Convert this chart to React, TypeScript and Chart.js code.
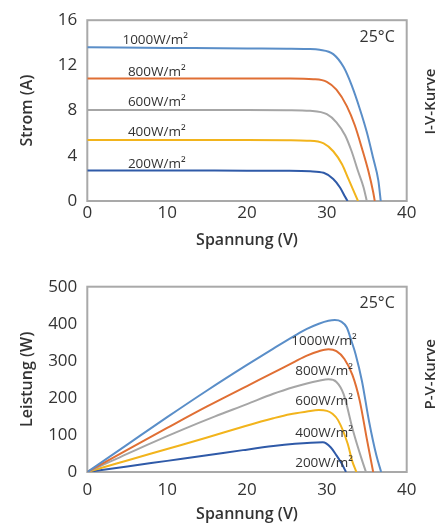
import React, { useEffect, useRef } from "react";
import { Chart, registerables } from "chart.js";

Chart.register(...registerables);

// ---------- categories / labels ----------
const irradianceLabels = ["1000W/m²", "800W/m²", "600W/m²", "400W/m²", "200W/m²"];
const seriesColors = ["#5a8ec8", "#e06f34", "#a6a6a6", "#f2b41c", "#2f5aa8"];
const temperatureLabel = "25°C";

// ---------- tick values ----------
const voltageTicks = [0, 10, 20, 30, 40];
const currentTicks = [0, 4, 8, 12, 16];
const powerTicks = [0, 100, 200, 300, 400, 500];

// ---------- I-V curves (V in volts, I in amps) ----------
const iv1000V = [0, 10, 20, 25, 27.5, 29.1, 30.8, 32.1, 33.1, 34.15, 35.0, 35.8, 36.45, 36.75];
const iv1000I = [13.6, 13.55, 13.5, 13.48, 13.45, 13.38, 13.0, 11.85, 10.25, 8.1, 6.1, 3.8, 1.8, 0];
const iv800V = [0, 10, 20, 25, 28.3, 30.0, 31.2, 32.5, 33.5, 34.4, 35.2, 35.8, 36.0];
const iv800I = [10.85, 10.85, 10.85, 10.84, 10.78, 10.55, 9.85, 8.4, 6.7, 4.65, 2.65, 0.8, 0];
const iv600V = [0, 10, 20, 25, 27.9, 30.0, 31.2, 32.3, 33.1, 33.9, 34.6, 35.0];
const iv600I = [8.06, 8.06, 8.06, 8.04, 7.98, 7.68, 6.96, 5.8, 4.4, 2.65, 1.2, 0];
const iv400V = [0, 10, 20, 25, 27.5, 29.6, 30.8, 31.9, 32.7, 33.5, 33.9];
const iv400I = [5.39, 5.4, 5.4, 5.38, 5.34, 5.1, 4.4, 3.25, 1.95, 0.65, 0];
const iv200V = [0, 10, 20, 25, 27.9, 29.6, 30.8, 31.65, 32.3, 32.6];
const iv200I = [2.7, 2.7, 2.68, 2.67, 2.63, 2.5, 1.95, 1.2, 0.35, 0];

// ---------- P-V curves (V in volts, P in watts) ----------
const pv1000V = [0, 5, 10, 15, 20, 23.3, 26, 27.5, 29, 30.2, 31, 31.8, 32.5, 33.1, 33.6, 34.4, 35.3, 36.2, 36.8];
const pv1000P = [0, 74, 148, 220, 289, 333, 368, 386, 400, 408, 410, 406, 390, 352, 318, 245, 135, 45, 0];
const pv800V = [0, 5, 10, 15, 20, 23.3, 26, 27.5, 29, 30.2, 31.2, 32.2, 33.2, 34.1, 35.0, 35.8];
const pv800P = [0, 60, 119, 177, 232, 268, 298, 314, 326, 331, 326, 305, 262, 194, 90, 0];
const pv600V = [0, 4, 8, 12, 16, 20, 23.3, 26, 27.5, 29, 30.2, 31.2, 32.1, 33.3, 34.4, 34.9];
const pv600P = [0, 39, 78, 115, 150, 183, 211, 230, 239, 246, 250, 243, 210, 110, 32, 0];
const pv400V = [0, 5, 10, 15, 19.5, 23.3, 25.4, 27.5, 29, 30, 30.7, 31.4, 32.6, 33.2, 33.7];
const pv400P = [0, 31, 62, 93, 122, 145, 156, 163, 167, 165, 157, 140, 77, 28, 0];
const pv200V = [0, 5, 10, 15, 19.5, 23.3, 26, 28, 29.5, 30.5, 31.2, 31.8, 32.4];
const pv200P = [0, 15, 30, 45, 59, 70, 76, 79, 80, 66, 45, 25, 0];

// ---------- annotation anchors (data space) ----------
const ivLabelV = [8.5, 8.7, 8.7, 8.7, 8.7];
const ivLabelI = [14.2, 11.44, 8.77, 6.1, 3.27];
const pvLabelV = [29.65, 29.65, 29.65, 29.65, 29.65];
const pvLabelP = [354, 273, 190, 104, 25];
const ivTempAt = [36.3, 14.5];
const pvTempAt = [36.3, 456];

const FONT = "'Open Sans', 'Noto Sans', sans-serif";
const TEXT = "#333333";

const toPoints = (xs: number[], ys: number[]) => xs.map((x, i) => ({ x, y: ys[i] }));

const frameAndText = {
  id: "frameAndText",
  beforeDatasetsDraw(chart: any) {
    const { ctx, chartArea } = chart;
    ctx.save();
    ctx.strokeStyle = "#a9a9a9";
    ctx.lineWidth = 2;
    ctx.strokeRect(chartArea.left, chartArea.top, chartArea.right - chartArea.left, chartArea.bottom - chartArea.top);
    ctx.restore();
  },
  afterDatasetsDraw(chart: any, _args: any, opts: any) {
    const { ctx, chartArea, scales } = chart;
    ctx.save();
    ctx.fillStyle = TEXT;
    ctx.textAlign = "center";
    ctx.textBaseline = "middle";
    ctx.font = `13.5px ${FONT}`;
    (opts.labels || []).forEach((l: any) => {
      ctx.fillText(l.text, scales.x.getPixelForValue(l.x), scales.y.getPixelForValue(l.y));
    });
    ctx.font = `16px ${FONT}`;
    if (opts.temp) {
      ctx.fillText(opts.temp.text, scales.x.getPixelForValue(opts.temp.x), scales.y.getPixelForValue(opts.temp.y));
    }
    if (opts.side) {
      ctx.font = `600 15px ${FONT}`;
      ctx.translate(chartArea.right + opts.side.dx, (chartArea.top + chartArea.bottom) / 2 + opts.side.dy);
      ctx.rotate(-Math.PI / 2);
      ctx.fillText(opts.side.text, 0, 0);
    }
    ctx.restore();
  },
};

function buildConfig(kind: "iv" | "pv"): any {
  const isIV = kind === "iv";
  const xs = isIV ? [iv1000V, iv800V, iv600V, iv400V, iv200V] : [pv1000V, pv800V, pv600V, pv400V, pv200V];
  const ys = isIV ? [iv1000I, iv800I, iv600I, iv400I, iv200I] : [pv1000P, pv800P, pv600P, pv400P, pv200P];
  const yTicks = isIV ? currentTicks : powerTicks;
  const labV = isIV ? ivLabelV : pvLabelV;
  const labY = isIV ? ivLabelI : pvLabelP;
  const temp = isIV ? ivTempAt : pvTempAt;

  return {
    type: "line",
    data: {
      datasets: irradianceLabels.map((label, i) => ({
        label,
        data: toPoints(xs[i], ys[i]),
        borderColor: seriesColors[i],
        backgroundColor: seriesColors[i],
        borderWidth: 2,
        pointRadius: 0,
        fill: false,
        cubicInterpolationMode: "monotone",
      })),
    },
    options: {
      responsive: false,
      animation: false,
      events: [],
      layout: { padding: { top: isIV ? 15 : 26.7, right: 35.3, left: 0, bottom: 0 } },
      plugins: {
        legend: { display: false },
        tooltip: { enabled: false },
        frameAndText: {
          labels: irradianceLabels.map((text, i) => ({ text, x: labV[i], y: labY[i] })),
          temp: { text: temperatureLabel, x: temp[0], y: temp[1] },
          side: { text: isIV ? "I-V-Kurve" : "P-V-Kurve", dx: 24.5, dy: isIV ? -9 : -5 },
        },
      },
      scales: {
        x: {
          type: "linear",
          min: voltageTicks[0],
          max: voltageTicks[voltageTicks.length - 1],
          afterFit: (s: any) => {
            s.height = isIV ? 59 : 53;
          },
          afterBuildTicks: (s: any) => {
            s.ticks = voltageTicks.map((v) => ({ value: v }));
          },
          grid: { display: false, drawTicks: false },
          border: { display: false },
          ticks: { padding: isIV ? 2 : 8, font: { family: FONT, size: 17 }, color: TEXT, maxRotation: 0 },
          title: {
            display: true,
            text: "Spannung (V)",
            color: TEXT,
            font: { family: FONT, size: 16, weight: "600" },
            padding: { top: 0, bottom: isIV ? 10 : 1 },
          },
        },
        y: {
          type: "linear",
          min: yTicks[0],
          max: yTicks[yTicks.length - 1],
          afterFit: (s: any) => {
            s.width = 87.3;
          },
          afterBuildTicks: (s: any) => {
            s.ticks = yTicks.map((v) => ({ value: v }));
          },
          grid: { display: false, drawTicks: false },
          border: { display: false },
          ticks: { padding: 10, font: { family: FONT, size: 17 }, color: TEXT },
          title: {
            display: true,
            text: isIV ? "Strom (A)" : "Leistung (W)",
            color: TEXT,
            font: { family: FONT, size: 16, weight: "600" },
            padding: { top: 17.4, bottom: 0 },
          },
        },
      },
    },
    plugins: [frameAndText],
  };
}

function PlotCanvas({ kind, top, height }: { kind: "iv" | "pv"; top: number; height: number }) {
  const ref = useRef<HTMLCanvasElement>(null);
  useEffect(() => {
    const chart = new Chart(ref.current as HTMLCanvasElement, buildConfig(kind));
    return () => chart.destroy();
  }, [kind]);
  return (
    <canvas
      ref={ref}
      width={442}
      height={height}
      style={{ position: "absolute", left: 0, top, width: 442, height, display: "block" }}
    />
  );
}

export default function App() {
  return (
    <div style={{ position: "absolute", left: 0, top: 0, width: 442, height: 525, background: "#ffffff", overflow: "hidden" }}>
      <PlotCanvas kind="iv" top={0} height={260} />
      <PlotCanvas kind="pv" top={260} height={265} />
    </div>
  );
}
